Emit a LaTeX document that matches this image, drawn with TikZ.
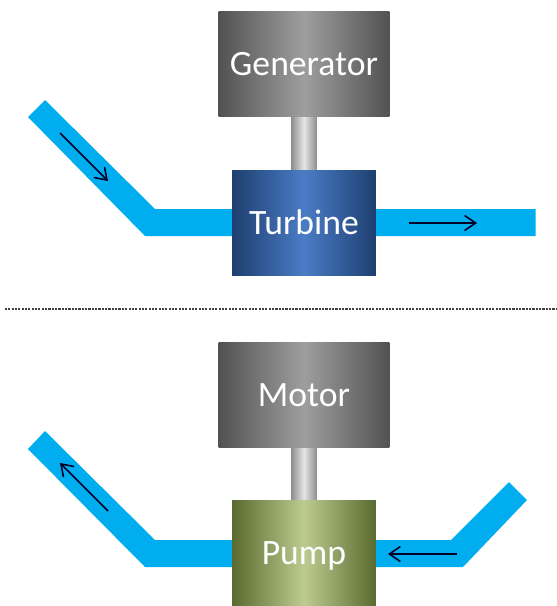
\documentclass[tikz,border=0pt]{standalone}
\usepackage{fontspec}
\setmainfont{Carlito}
\usepackage{xcolor}
\usetikzlibrary{arrows.meta}
\definecolor{pipeblue}{HTML}{00AEEF}
\definecolor{turbedge}{HTML}{1E3F70}
\definecolor{turbmid}{HTML}{4A7CC6}
\definecolor{pumpedge}{HTML}{5A6B30}
\definecolor{pumpmid}{HTML}{BDCB90}
\begin{document}
\begin{tikzpicture}[
    x=0.02cm, y=-0.02cm,
    machine/.style={
        rectangle,
        inner sep=0pt,
        minimum width=3.42cm,
        minimum height=2.12cm,
        text=white,
        text height=13pt,
        text depth=0pt,
        font=\fontsize{20.3}{24}\selectfont,
        left color=black!68,
        right color=black!68,
        middle color=black!38
    },
    unit/.style={
        rectangle,
        inner sep=0pt,
        minimum width=2.88cm,
        minimum height=2.12cm,
        text=white,
        text height=13pt,
        text depth=0pt,
        font=\fontsize{20.3}{24}\selectfont
    },
    turbine/.style={
        unit,
        left color=turbedge,
        right color=turbedge,
        middle color=turbmid
    },
    pumpunit/.style={
        unit,
        left color=pumpedge,
        right color=pumpedge,
        middle color=pumpmid
    },
    shaftbar/.style={
        rectangle,
        inner sep=0pt,
        minimum width=0.52cm,
        minimum height=1.08cm,
        left color=black!45,
        right color=black!45,
        middle color=black!10
    },
    pipe/.style={fill=pipeblue},
    flow/.style={-{Straight Barb[length=2.2mm,width=3mm]}, line width=0.9pt, black!85!blue}
]

\useasboundingbox (0,0) rectangle (556,606);

% === PIPES ===
\fill[pipe] (45,100) -- (155,209) -- (535.5,209) -- (535.5,236) -- (145,236) -- (28,117) -- cycle;
\fill[pipe] (45,431) -- (155,540) -- (451,540) -- (509,482) -- (527,500) -- (463,567) -- (145,567) -- (28,449) -- cycle;

% === NODES ===

% Top machine
\node[shaftbar] (shafttop) at (304,143.5) {};
\node[machine] (generator) at (304,64) {Generator};
\node[turbine] (turb) at (304,223) {Turbine};

% Bottom machine
\node[shaftbar] (shaftbot) at (304,474) {};
\node[machine] (motor) at (304,395) {Motor};
\node[pumpunit] (pump) at (304,553.5) {Pump};

% Ends of the flow arrows
\coordinate (inA) at (60,133);
\coordinate (inB) at (108,181);
\coordinate (outA) at (408.5,223);
\coordinate (outB) at (477,223);
\coordinate (backA) at (108,511);
\coordinate (backB) at (60,463);
\coordinate (suckA) at (457,554);
\coordinate (suckB) at (388,554);

% Ends of the divider
\coordinate (divL) at (5,309);
\coordinate (divR) at (556,309);

% === ARROWS ===
\draw[flow] (inA) -- (inB);
\draw[flow] (outA) -- (outB);
\draw[flow] (backA) -- (backB);
\draw[flow] (suckA) -- (suckB);

% Divider
\draw[line width=0.9pt, black!75, dash pattern=on 1.2pt off 0.7pt] (divL) -- (divR);

\end{tikzpicture}
\end{document}
